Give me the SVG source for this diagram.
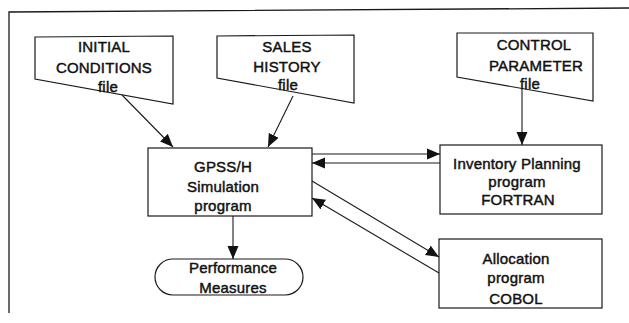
<svg xmlns="http://www.w3.org/2000/svg" width="629" height="323" viewBox="0 0 629 323">
<style>
.s{fill:#fff;stroke:#1a1a1a;stroke-width:1.2}
.t{font-family:"Liberation Sans",Arial,sans-serif;font-size:15px;fill:#111;stroke:#111;stroke-width:0.45;letter-spacing:0.2px;text-anchor:middle}
.c{stroke:#1a1a1a;stroke-width:1.1;fill:none;marker-end:url(#ah)}
</style>
<defs>
<marker id="ah" markerUnits="userSpaceOnUse" markerWidth="14" markerHeight="12" refX="13" refY="6" orient="auto">
<path d="M0,0.5 L13,6 L0,11.5 Z" fill="#111"/>
</marker>
</defs>
<rect width="629" height="323" fill="#fff"/>
<path d="M9,313 L9,12 L629,8" fill="none" stroke="#1a1a1a" stroke-width="1.3"/>
<g id="initial">
<path class="s" d="M35,37 L173,36 L173,104 L35,79 Z"/>
<text class="t" x="104" y="52">INITIAL</text>
<text class="t" x="104" y="73">CONDITIONS</text>
<text class="t" x="108" y="92">file</text>
</g>
<g id="sales">
<path class="s" d="M217,36 L354,35 L354,103 L217,78 Z"/>
<text class="t" x="287" y="52">SALES</text>
<text class="t" x="287" y="72">HISTORY</text>
<text class="t" x="288" y="90">file</text>
</g>
<g id="control">
<path class="s" d="M457,33 L593,33 L593,101 L457,77 Z"/>
<text class="t" x="534" y="50">CONTROL</text>
<text class="t" x="536" y="71">PARAMETER</text>
<text class="t" x="530" y="89">file</text>
</g>
<g id="gpss">
<rect class="s" x="148" y="148" width="164" height="68"/>
<text class="t" x="223" y="172">GPSS/H</text>
<text class="t" x="223" y="192">Simulation</text>
<text class="t" x="223" y="211">program</text>
</g>
<g id="inventory">
<rect class="s" x="440" y="145" width="162" height="69"/>
<text class="t" x="517" y="169">Inventory Planning</text>
<text class="t" x="517" y="187">program</text>
<text class="t" x="518" y="205">FORTRAN</text>
</g>
<g id="allocation">
<rect class="s" x="439" y="239" width="163" height="69"/>
<text class="t" x="516" y="264">Allocation</text>
<text class="t" x="516" y="283">program</text>
<text class="t" x="516" y="304">COBOL</text>
</g>
<g id="performance">
<rect class="s" x="155" y="259" width="148" height="36" rx="18" ry="18"/>
<text class="t" x="233" y="273">Performance</text>
<text class="t" x="233" y="293">Measures</text>
</g>
<g id="connectors">
<line class="c" x1="122" y1="95" x2="173" y2="147"/>
<line class="c" x1="293" y1="96" x2="268" y2="147"/>
<line class="c" x1="522" y1="89" x2="522" y2="145"/>
<line class="c" x1="233" y1="216" x2="233" y2="259"/>
<line class="c" x1="312" y1="154" x2="440" y2="154"/>
<line class="c" x1="440" y1="163" x2="312" y2="163"/>
<line class="c" x1="312" y1="181" x2="439" y2="257"/>
<line class="c" x1="439" y1="273" x2="312" y2="198"/>
</g>
</svg>
